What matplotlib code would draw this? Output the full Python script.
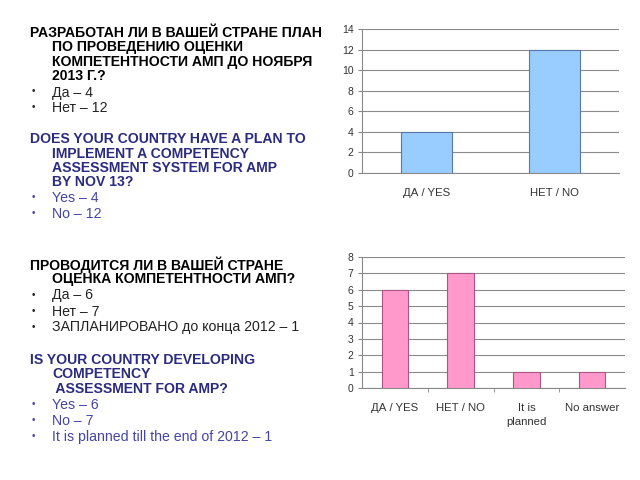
import matplotlib.pyplot as plt
import numpy as np

plt.rcParams['font.family'] = ['Liberation Sans', 'DejaVu Sans']

# chart data
cats_top = ['ДА / YES', 'НЕТ / NO']
vals_top = [4, 12]
cats_bot = ['ДА / YES', 'НЕТ / NO', 'It is\nplanned', 'No answer']
vals_bot = [6, 7, 1, 1]

# slide text
ru_q1 = ['РАЗРАБОТАН ЛИ В ВАШЕЙ СТРАНЕ ПЛАН', 'ПО ПРОВЕДЕНИЮ ОЦЕНКИ',
         'КОМПЕТЕНТНОСТИ АМП ДО НОЯБРЯ', '2013 Г.?']
ru_a1 = ['Да – 4', 'Нет – 12']
en_q1 = ['DOES YOUR COUNTRY HAVE A PLAN TO', 'IMPLEMENT A COMPETENCY',
         'ASSESSMENT SYSTEM FOR AMP', 'BY NOV 13?']
en_a1 = ['Yes – 4', 'No – 12']
ru_q2 = ['ПРОВОДИТСЯ ЛИ В ВАШЕЙ СТРАНЕ', 'ОЦЕНКА КОМПЕТЕНТНОСТИ АМП?']
ru_a2 = ['Да – 6', 'Нет – 7', 'ЗАПЛАНИРОВАНО до конца 2012 – 1']
en_q2 = ['IS YOUR COUNTRY DEVELOPING', 'COMPETENCY', ' ASSESSMENT FOR AMP?']
en_a2 = ['Yes – 6', 'No – 7', 'It is planned till the end of 2012 – 1']

W, H = 640, 480
fig = plt.figure(figsize=(6.4, 4.8), dpi=100)


def put(x, y, s, **kw):
    fig.text(x / W, 1 - y / H, s, va='center', ha='left', **kw)


def block(y0, q, a, qcol, acol, qgap=14.5, agap=16):
    y = y0
    for i, line in enumerate(q):
        put(30 if i == 0 else 52, y, line, fontsize=10.1, fontweight='bold', color=qcol)
        y += qgap
    y += 1.5
    for line in a:
        put(32, y - 1, '•', fontsize=7, color=acol)
        put(52, y, line, fontsize=10.2, color=acol)
        y += agap
    return y


block(33, ru_q1, ru_a1, 'black', '#222222')
block(139, en_q1, en_a1, '#2b2b80', '#4444aa')
block(265, ru_q2, ru_a2, 'black', '#222222')
block(360, en_q2, en_a2, '#2b2b80', '#4444aa')


def bar_chart(rect, cats, vals, ymax, color, edge, boundary_ticks):
    ax = fig.add_axes(rect)
    x = np.arange(len(cats))
    ax.bar(x, vals, width=0.4, color=color, edgecolor=edge, linewidth=0.8, zorder=3)
    ax.set_xlim(-0.5, len(cats) - 0.5)
    ax.set_ylim(0, ymax)
    ax.set_yticks(range(0, ymax + 1, 2 if ymax > 8 else 1))
    ax.set_xticks(x)
    ax.set_xticklabels(cats, fontsize=8.2, color='#333333', linespacing=1.45)
    ax.tick_params(axis='x', length=0, pad=11)
    ax.tick_params(axis='y', labelsize=7.5, colors='#333333', length=3, color='#888888', pad=3)
    if boundary_ticks:
        ax.set_xticks(x[:-1] + 0.5, minor=True)
        ax.tick_params(axis='x', which='minor', length=3, color='#888888')
    ax.yaxis.grid(True, color='#8a8a8a', linewidth=0.8, zorder=0)
    for s in ['top', 'right']:
        ax.spines[s].set_visible(False)
    ax.spines['left'].set_color('#8a8a8a')
    ax.spines['bottom'].set_color('#8a8a8a')
    return ax


bar_chart([362 / W, 1 - 173 / H, 257 / W, 144 / H], cats_top, vals_top, 14,
          '#99ccff', '#5577aa', False)
bar_chart([362 / W, 1 - 388 / H, 263 / W, 131 / H], cats_bot, vals_bot, 8,
          '#ff99cc', '#aa5588', True)

fig.savefig('out.png', dpi=100)
